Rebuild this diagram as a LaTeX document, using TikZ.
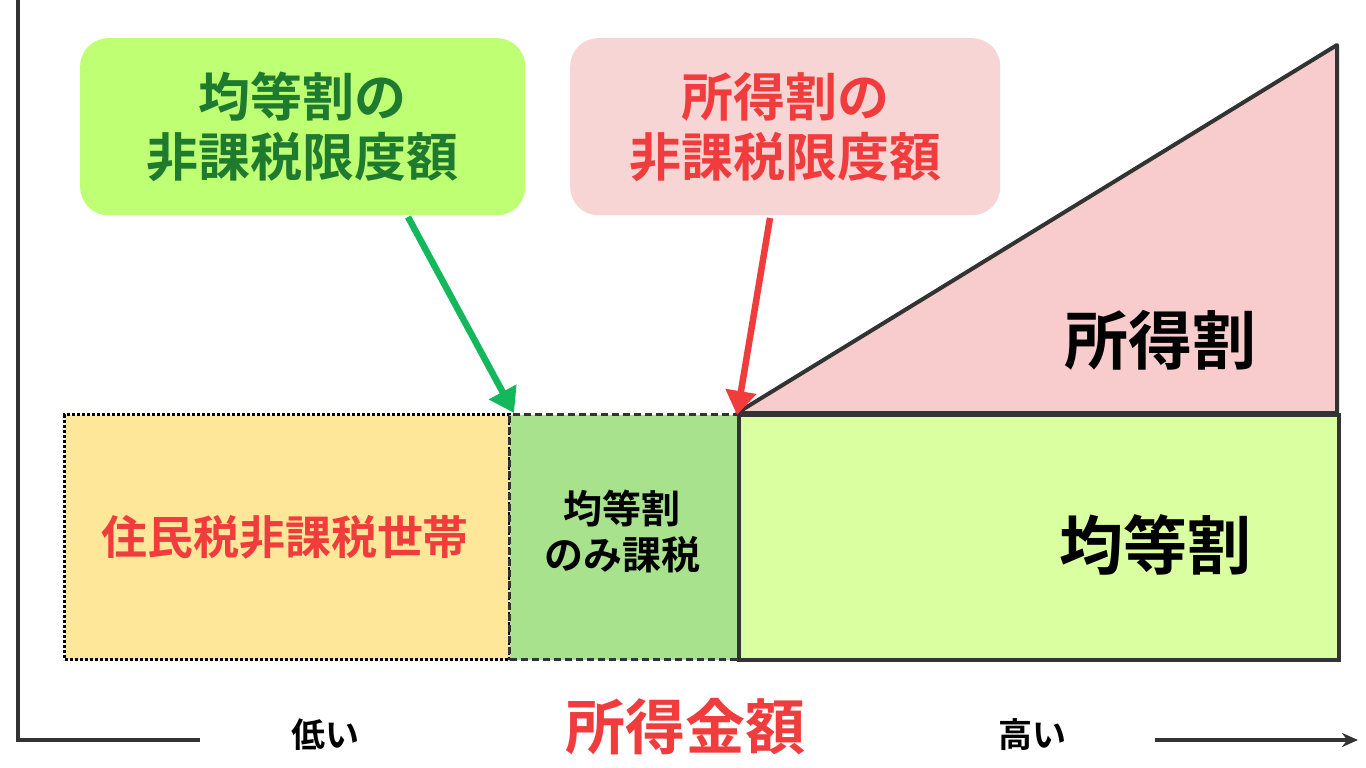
\documentclass[tikz,border=0pt]{standalone}
\usepackage{fontspec}
\setmainfont{Noto Sans CJK JP}[BoldFont={* Bold}]
\usetikzlibrary{arrows.meta}
\definecolor{yel}{HTML}{FFE79A}
\definecolor{mgreen}{HTML}{A8E28C}
\definecolor{lgreen}{HTML}{D9FFA0}
\definecolor{pinkt}{HTML}{F8CCCC}
\definecolor{gbox}{HTML}{BFFF73}
\definecolor{pbox}{HTML}{F8D5D5}
\definecolor{dgreen}{HTML}{1E7A2E}
\definecolor{myred}{HTML}{F03C3C}
\definecolor{garrow}{HTML}{12B85A}
\definecolor{edge}{HTML}{333333}
\begin{document}
\begin{tikzpicture}[x=1pt,y=-1pt,
  lab/.style={font=\bfseries, align=center, inner sep=0pt},
  arr/.style={line width=6.5pt,-{Triangle[length=24pt,width=30pt]}}]
\useasboundingbox (0,0) rectangle (1366,768);
\fill[white] (0,0) rectangle (1366,768);
% axes
\draw[line width=3.5pt,edge] (18,0) -- (18,740) -- (200,740);
\coordinate (ax1) at (1155,740); \coordinate (ax2) at (1358,740);
\draw[line width=3.5pt,edge,-{Stealth[length=16pt,width=14pt]}] (ax1) -- (ax2);
% boxes
\node[draw=black,dotted,line width=3pt,fill=yel,minimum width=445pt,minimum height=245pt,anchor=north west,inner sep=0pt] (y) at (63,413) {};
\node[draw=edge,dash pattern=on 7pt off 4pt,line width=3pt,fill=mgreen,minimum width=229pt,minimum height=245pt,anchor=north west,inner sep=0pt] (m) at (508,413) {};
\node[draw=edge,line width=3.5pt,fill=lgreen,minimum width=600pt,minimum height=245pt,anchor=north west,inner sep=0pt] (l) at (737,413) {};
\draw[edge,line width=4pt,fill=pinkt,line join=round] (737,413) -- (1337,413) -- (1337,45) -- cycle;
\node[lab,myred,font=\bfseries\fontsize{46}{52}\selectfont] (yt) at (285,537) {住民税非課税世帯};
\node[lab,font=\bfseries\fontsize{39}{46}\selectfont] (mt) at (622,532) {均等割\\のみ課税};
\node[lab,font=\bfseries\fontsize{64}{70}\selectfont] (lt) at (1155,545) {均等割};
\node[lab,font=\bfseries\fontsize{64}{70}\selectfont] (tt) at (1160,340) {所得割};
% callouts
\node[fill=gbox,rounded corners=28pt,minimum width=445pt,minimum height=177pt,anchor=north west] (g) at (80,38) {};
\node[lab,dgreen,font=\bfseries\fontsize{52}{60}\selectfont] at (g.center) {均等割の\\非課税限度額};
\node[fill=pbox,rounded corners=28pt,minimum width=430pt,minimum height=177pt,anchor=north west] (p) at (570,38) {};
\node[lab,myred,font=\bfseries\fontsize{52}{60}\selectfont] at (p.center) {所得割の\\非課税限度額};
\coordinate (gs) at (408,217); \coordinate (ge) at (514,413);
\coordinate (ps) at (770,218); \coordinate (pe) at (737,415);
\draw[arr,garrow] (gs) -- (ge);
\draw[arr,myred] (ps) -- (pe);
% labels
\node[lab,font=\bfseries\fontsize{34}{38}\selectfont] (lo) at (325,735) {低い};
\node[lab,myred,font=\bfseries\fontsize{60}{66}\selectfont] (inc) at (685,727) {所得金額};
\node[lab,font=\bfseries\fontsize{34}{38}\selectfont] (hi) at (1032,735) {高い};
\end{tikzpicture}
\end{document}
